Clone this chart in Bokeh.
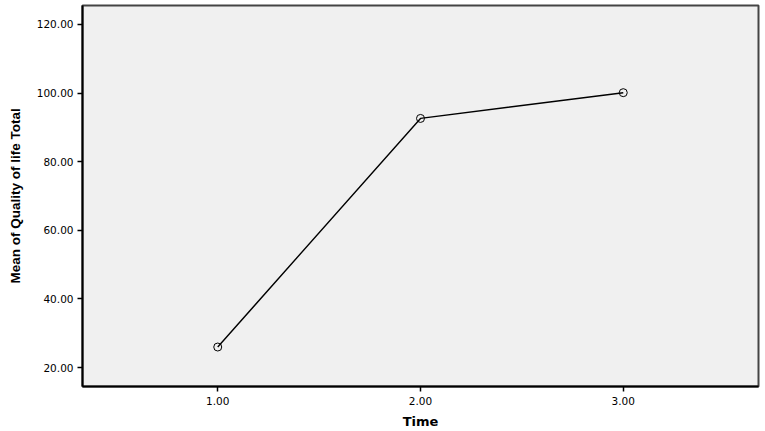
from bokeh.plotting import figure
from bokeh.models import FixedTicker, NumeralTickFormatter, Range1d
from bokeh.embed import file_html
from bokeh.resources import INLINE

# Data
time_values = [1.0, 2.0, 3.0]
mean_qol = [26.0, 92.6, 100.1]
x_ticks = [1.0, 2.0, 3.0]
y_ticks = [20, 40, 60, 80, 100, 120]

p = figure(
    width=765, height=431,
    x_range=Range1d(0.333, 3.667),
    y_range=Range1d(14.5, 125.5),
    output_backend="svg",
    toolbar_location=None,
    min_border_left=82, min_border_right=7,
    min_border_top=5, min_border_bottom=42,
)
p.styles = {"position": "absolute", "left": "0px", "top": "0px"}

p.border_fill_color = "white"
p.background_fill_color = "#F0F0F0"
p.outline_line_color = "#444444"
p.outline_line_width = 2

p.xgrid.visible = False
p.ygrid.visible = False

p.line(time_values, mean_qol, line_color="black", line_width=1.4)
p.scatter(time_values, mean_qol, marker="circle", size=8,
          fill_color=None, line_color="black", line_width=1)

for ax in (p.xaxis[0], p.yaxis[0]):
    ax.axis_line_color = "black"
    ax.axis_line_width = 2
    ax.major_tick_line_color = "black"
    ax.major_tick_line_width = 1.5
    ax.major_tick_in = 0
    ax.major_tick_out = 5
    ax.minor_tick_line_color = None
    ax.major_label_text_font = "DejaVu Sans"
    ax.major_label_text_font_size = "10.5px"
    ax.major_label_text_color = "black"
    ax.axis_label_text_color = "black"
    ax.formatter = NumeralTickFormatter(format="0.00")

p.xaxis[0].ticker = FixedTicker(ticks=x_ticks)
p.yaxis[0].ticker = FixedTicker(ticks=y_ticks)
p.xaxis[0].major_label_standoff = 5
p.yaxis[0].major_label_standoff = 4

p.xaxis[0].axis_label = "Time"
p.xaxis[0].axis_label_text_font = "DejaVu Sans"
p.xaxis[0].axis_label_text_font_style = "bold"
p.xaxis[0].axis_label_text_font_size = "13px"
p.xaxis[0].axis_label_standoff = 6

p.yaxis[0].axis_label = "Mean of Quality of life Total"
p.yaxis[0].axis_label_text_font = "Liberation Sans"
p.yaxis[0].axis_label_text_font_style = "bold"
p.yaxis[0].axis_label_text_font_size = "13.5px"
p.yaxis[0].axis_label_standoff = 11

open("out.html", "w").write(file_html(p, INLINE))
